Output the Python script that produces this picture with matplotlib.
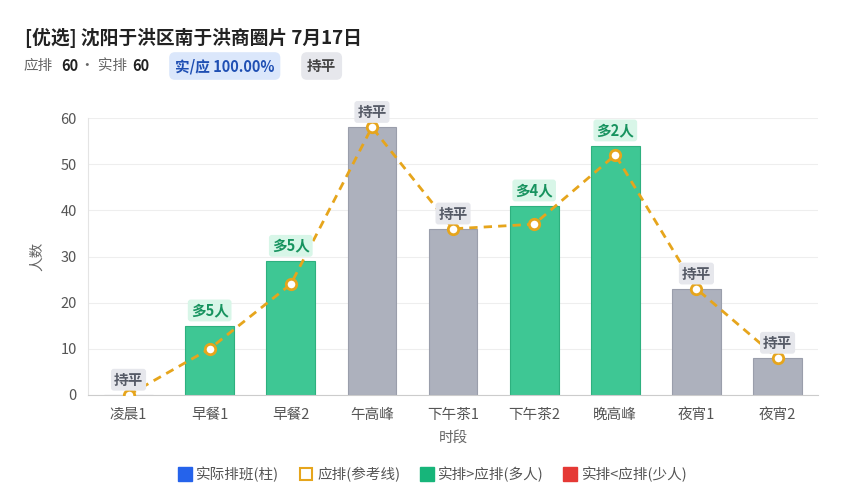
import numpy as np
import matplotlib
matplotlib.use('Agg')
import matplotlib.pyplot as plt
from matplotlib.lines import Line2D

plt.rcParams['font.family'] = ['Noto Sans CJK SC', 'DejaVu Sans']

# data
slots = ['凌晨1', '早餐1', '早餐2', '午高峰', '下午茶1', '下午茶2', '晚高峰', '夜宵1', '夜宵2']
actual = [0, 15, 29, 58, 36, 41, 54, 23, 8]
planned = [0, 10, 24, 58, 36, 37, 52, 23, 8]
title = '[优选] 沈阳于洪区南于洪商圈片 7月17日'
plan_total = 60
actual_total = 60
ratio_text = '实/应 100.00%'
status_text = '持平'

GREEN = '#3ec794'
GREEN_EDGE = '#2eb07f'
GRAY = '#adb1bd'
GRAY_EDGE = '#9a9eab'
RED = '#e84545'
ORANGE = '#e6a51c'

fig = plt.figure(figsize=(8.5, 5), dpi=100)
ax = fig.add_axes([0.1035, 0.21, 0.859, 0.554])

x = np.arange(len(slots))
diff = [a - p for a, p in zip(actual, planned)]
colors = [GREEN if d > 0 else (RED if d < 0 else GRAY) for d in diff]
edges = [GREEN_EDGE if d > 0 else ('#c93030' if d < 0 else GRAY_EDGE) for d in diff]

ax.bar(x, actual, width=0.6, color=colors, edgecolor=edges, linewidth=0.8, zorder=2)
ax.plot(x, planned, color=ORANGE, linestyle=(0, (3, 2.2)), linewidth=2, zorder=3,
        marker='o', markersize=7.5, markerfacecolor='white', markeredgecolor=ORANGE,
        markeredgewidth=2)

for xi, a, p, d in zip(x, actual, planned, diff):
    top = max(a, p)
    if d > 0:
        txt, fc, tc = f'多{d}人', '#d8f6e8', '#17935f'
    elif d < 0:
        txt, fc, tc = f'少{-d}人', '#fde0e0', '#c93030'
    else:
        txt, fc, tc = '持平', '#e6e7ec', '#555a66'
    ax.annotate(txt, (xi, top), xytext=(0, 11), textcoords='offset points',
                ha='center', va='center', fontsize=10.5, fontweight='bold', color=tc,
                bbox=dict(boxstyle='round,pad=0.2', fc=fc, ec='none'),
                annotation_clip=False, zorder=5)

ax.set_xlim(-0.5, len(slots) - 0.5)
ax.set_ylim(0, 60)
ax.set_yticks(range(0, 61, 10))
ax.set_xticks(x)
ax.set_xticklabels(slots)
ax.tick_params(axis='both', colors='#555555', labelsize=10.5, length=0, pad=8)
ax.tick_params(axis='x', pad=9)
ax.grid(axis='y', color='#eeeeee', linewidth=0.8, zorder=0)
ax.set_axisbelow(True)
for s in ['top', 'right']:
    ax.spines[s].set_visible(False)
ax.spines['left'].set_color('#e4e4e4')
ax.spines['bottom'].set_color('#cccccc')
ax.set_xlabel('时段', fontsize=10.5, color='#666666', labelpad=7)
ax.set_ylabel('人数', fontsize=10.5, color='#666666', labelpad=12)

# header
fig.text(25 / 850, 1 - 38 / 500, title, fontsize=13.5, fontweight='bold',
         color='#222222', va='center')
yh = 1 - 66 / 500
fig.text(24 / 850, yh, '应排', fontsize=10.5, color='#666666', va='center')
fig.text(61 / 850, yh, str(plan_total), fontsize=10.5, fontweight='bold', color='#222222', va='center')
fig.text(80 / 850, yh, '· 实排', fontsize=10.5, color='#666666', va='center')
fig.text(132 / 850, yh, str(actual_total), fontsize=10.5, fontweight='bold', color='#222222', va='center')
fig.text(175 / 850, yh, ratio_text, fontsize=10.5, fontweight='bold', color='#1f4fb3', va='center',
         bbox=dict(boxstyle='round,pad=0.4', fc='#dbe7fb', ec='none'))
fig.text(307 / 850, yh, status_text, fontsize=10.5, fontweight='bold', color='#444444', va='center',
         bbox=dict(boxstyle='round,pad=0.4', fc='#e6e7ec', ec='none'))

# legend
handles = [
    Line2D([], [], marker='s', linestyle='none', markersize=10, markerfacecolor='#2563eb', markeredgecolor='#2563eb'),
    Line2D([], [], marker='s', linestyle='none', markersize=9, markerfacecolor='white', markeredgecolor=ORANGE, markeredgewidth=1.5),
    Line2D([], [], marker='s', linestyle='none', markersize=10, markerfacecolor='#17b57a', markeredgecolor='#17b57a'),
    Line2D([], [], marker='s', linestyle='none', markersize=10, markerfacecolor='#e53935', markeredgecolor='#e53935'),
]
labels = ['实际排班(柱)', '应排(参考线)', '实排>应排(多人)', '实排<应排(少人)']
leg = fig.legend(handles, labels, loc='center', bbox_to_anchor=(0.508, 1 - 474 / 500), ncol=4,
                 frameon=False, fontsize=10.5, handletextpad=0.2, columnspacing=1.2,
                 handlelength=1.2)
for t in leg.get_texts():
    t.set_color('#555555')

fig.savefig('out.png', dpi=100, facecolor='white')
